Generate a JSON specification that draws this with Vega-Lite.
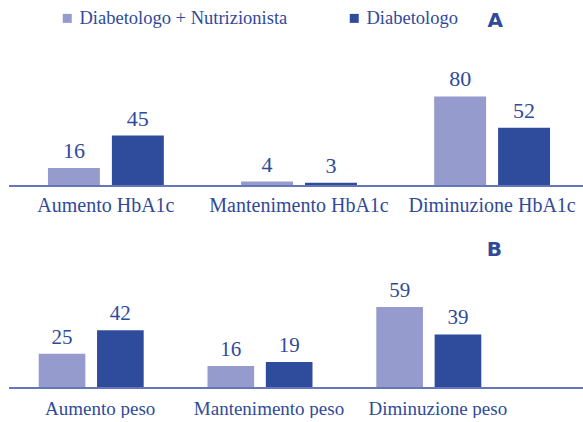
{
  "$schema": "https://vega.github.io/schema/vega-lite/v6.json",
  "background": "white",
  "padding": {"left": 8, "top": 9, "right": 0, "bottom": 0},
  "autosize": {"type": "pad"},
  "spacing": 25,
  "resolve": {"scale": {"xOffset": "independent"}},
  "config": {
    "view": {"stroke": null},
    "font": "Liberation Serif",
    "legend": {
      "orient": "none",
      "legendX": 49,
      "legendY": -65,
      "direction": "horizontal",
      "symbolType": "square",
      "symbolSize": 81,
      "symbolStrokeWidth": 0,
      "labelFont": "Liberation Serif",
      "labelFontSize": 18.5,
      "labelColor": "#2f4a9a",
      "labelOffset": 3,
      "labelLimit": 400,
      "columnPadding": 57
    }
  },
  "datasets": {
    "a": [
      {"cat": "Aumento HbA1c", "series": "Diabetologo + Nutrizionista", "value": 16},
      {"cat": "Aumento HbA1c", "series": "Diabetologo", "value": 45},
      {"cat": "Mantenimento HbA1c", "series": "Diabetologo + Nutrizionista", "value": 4},
      {"cat": "Mantenimento HbA1c", "series": "Diabetologo", "value": 3},
      {"cat": "Diminuzione HbA1c", "series": "Diabetologo + Nutrizionista", "value": 80},
      {"cat": "Diminuzione HbA1c", "series": "Diabetologo", "value": 52}
    ],
    "b": [
      {"cat": "Aumento peso", "series": "Diabetologo + Nutrizionista", "value": 25},
      {"cat": "Aumento peso", "series": "Diabetologo", "value": 42},
      {"cat": "Mantenimento peso", "series": "Diabetologo + Nutrizionista", "value": 16},
      {"cat": "Mantenimento peso", "series": "Diabetologo", "value": 19},
      {"cat": "Diminuzione peso", "series": "Diabetologo + Nutrizionista", "value": 59},
      {"cat": "Diminuzione peso", "series": "Diabetologo", "value": 39}
    ]
  },
  "vconcat": [
    {
      "data": {"name": "a"},
      "width": 575,
      "height": 112,
      "title": {"text": "A", "anchor": "end", "dx": -86, "font": "DejaVu Sans", "fontSize": 20, "fontWeight": "bold", "color": "#2f4a9a", "offset": 37},
      "layer": [
        {
          "mark": {"type": "bar"},
          "encoding": {
            "x": {"field": "cat", "type": "nominal", "sort": null, "scale": {"range": [0, 580], "paddingInner": 0.4, "paddingOuter": 0.2018}, "axis": {"title": null, "domain": false, "ticks": false, "labelAngle": 0, "labelFontSize": 20, "labelPadding": 9, "labelColor": "#2f4a9a", "labelFont": "Liberation Serif", "labelLimit": 300}},
            "xOffset": {"field": "series", "type": "nominal", "sort": ["Diabetologo + Nutrizionista", "Diabetologo"], "scale": {"paddingInner": 0.1875, "paddingOuter": 0}},
            "y": {"field": "value", "type": "quantitative", "scale": {"domain": [0, 100]}, "axis": null},
            "color": {"field": "series", "type": "nominal", "title": null, "sort": ["Diabetologo + Nutrizionista", "Diabetologo"], "scale": {"domain": ["Diabetologo + Nutrizionista", "Diabetologo"], "range": ["#959bcc", "#2f4c9c"]}}
          }
        },
        {
          "mark": {"type": "text", "baseline": "alphabetic", "dy": -10, "fontSize": 22, "font": "Liberation Serif", "color": "#2f4a9a"},
          "encoding": {
            "x": {"field": "cat", "type": "nominal", "sort": null},
            "xOffset": {"field": "series", "type": "nominal", "sort": ["Diabetologo + Nutrizionista", "Diabetologo"]},
            "y": {"field": "value", "type": "quantitative"},
            "text": {"field": "value", "type": "quantitative"}
          }
        },
        {
          "mark": {"type": "rule", "color": "#6577b8", "strokeWidth": 2},
          "encoding": {"y": {"datum": 0}}
        }
      ]
    },
    {
      "data": {"name": "b"},
      "width": 575,
      "height": 110,
      "title": {"text": "B", "anchor": "end", "dx": -83, "font": "DejaVu Sans", "fontSize": 20, "fontWeight": "bold", "color": "#2f4a9a", "offset": 18},
      "layer": [
        {
          "mark": {"type": "bar"},
          "encoding": {
            "x": {"field": "cat", "type": "nominal", "sort": null, "scale": {"range": [0, 502], "paddingInner": 0.378, "paddingOuter": 0.176}, "axis": {"title": null, "domain": false, "ticks": false, "labelAngle": 0, "labelFontSize": 19, "labelPadding": 11, "labelOffset": 9, "labelColor": "#2f4a9a", "labelFont": "Liberation Serif", "labelLimit": 300}},
            "xOffset": {"field": "series", "type": "nominal", "sort": ["Diabetologo + Nutrizionista", "Diabetologo"], "scale": {"paddingInner": 0.2, "paddingOuter": 0}},
            "y": {"field": "value", "type": "quantitative", "scale": {"domain": [0, 80]}, "axis": null},
            "color": {"field": "series", "type": "nominal", "title": null, "sort": ["Diabetologo + Nutrizionista", "Diabetologo"], "scale": {"domain": ["Diabetologo + Nutrizionista", "Diabetologo"], "range": ["#959bcc", "#2f4c9c"]}}
          }
        },
        {
          "mark": {"type": "text", "baseline": "alphabetic", "dy": -10, "fontSize": 21, "font": "Liberation Serif", "color": "#2f4a9a"},
          "encoding": {
            "x": {"field": "cat", "type": "nominal", "sort": null},
            "xOffset": {"field": "series", "type": "nominal", "sort": ["Diabetologo + Nutrizionista", "Diabetologo"]},
            "y": {"field": "value", "type": "quantitative"},
            "text": {"field": "value", "type": "quantitative"}
          }
        },
        {
          "mark": {"type": "rule", "color": "#6577b8", "strokeWidth": 2},
          "encoding": {"y": {"datum": 0}}
        }
      ]
    }
  ]
}
